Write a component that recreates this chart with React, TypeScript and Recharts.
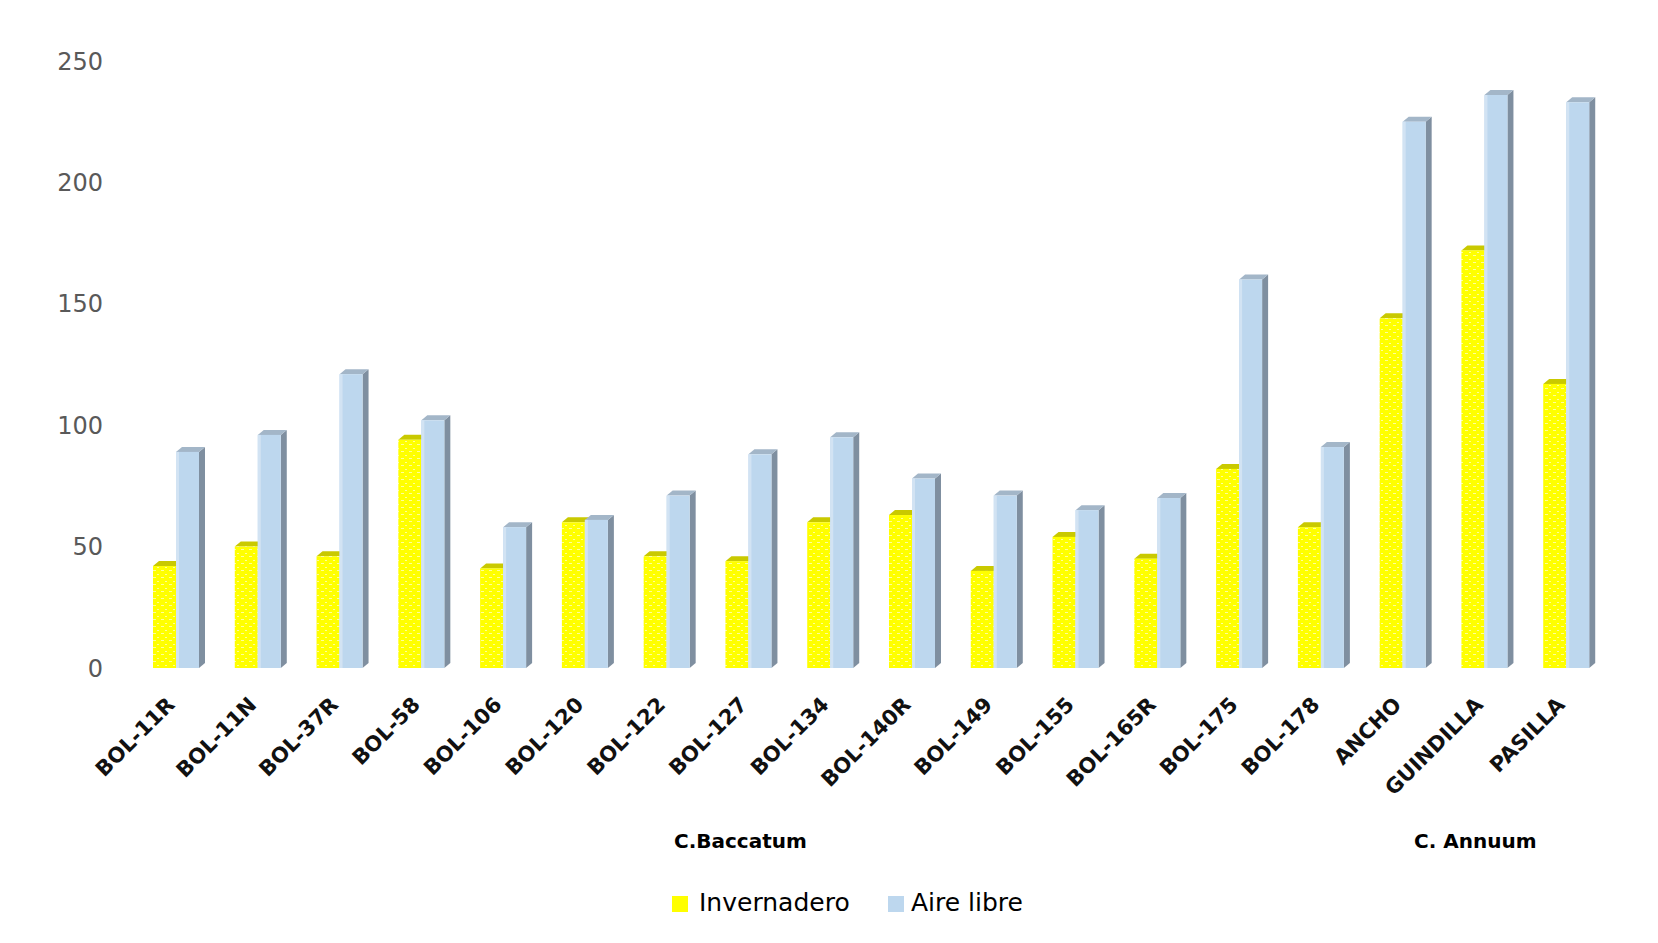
import { BarChart, Bar, XAxis, YAxis, Legend } from 'recharts'

const categories = [
  'BOL-11R', 'BOL-11N', 'BOL-37R', 'BOL-58', 'BOL-106', 'BOL-120', 'BOL-122', 'BOL-127', 'BOL-134',
  'BOL-140R', 'BOL-149', 'BOL-155', 'BOL-165R', 'BOL-175', 'BOL-178', 'ANCHO', 'GUINDILLA', 'PASILLA',
]
const invernadero = [42, 50, 46, 94, 41, 60, 46, 44, 60, 63, 40, 54, 45, 82, 58, 144, 172, 117]
const aireLibre = [89, 96, 121, 102, 58, 61, 71, 88, 95, 78, 71, 65, 70, 160, 91, 225, 236, 233]
const yTicks = [0, 50, 100, 150, 200, 250]
const groupLabels = ['C.Baccatum', 'C. Annuum']
const seriesNames = ['Invernadero', 'Aire libre']

const data = categories.map((name, i) => ({ name, inv: invernadero[i], aire: aireLibre[i] }))

// 3d-ish bars like the excel original
function InvShape(props: any) {
  const { x, y, width: w, height: h } = props
  if (!h || h <= 0) return null
  const d = 6, dy = 5
  return (
    <g>
      <polygon points={`${x},${y} ${x + d},${y - dy} ${x + w + d},${y - dy} ${x + w},${y}`} fill="#c9c900" />
      <rect x={x} y={y} width={w} height={h} fill="url(#yellowDots)" />
    </g>
  )
}

function AireShape(props: any) {
  const { x, y, width: w, height: h } = props
  if (!h || h <= 0) return null
  const d = 6, dy = 5
  return (
    <g>
      <polygon points={`${x + w},${y} ${x + w + d},${y - dy} ${x + w + d},${y + h - dy} ${x + w},${y + h}`} fill="#7f8fa0" />
      <polygon points={`${x},${y} ${x + d},${y - dy} ${x + w + d},${y - dy} ${x + w},${y}`} fill="#a3b6c8" />
      <rect x={x} y={y} width={w} height={h} fill="#bdd7ee" />
      <rect x={x} y={y} width={3} height={h} fill="#d2e3f3" />
    </g>
  )
}

function XTick({ x, payload }: any) {
  return (
    <text
      x={x}
      y={706}
      transform={`rotate(-45, ${x}, 706)`}
      textAnchor="end"
      fontSize={21}
      fontWeight="bold"
      fontFamily="DejaVu Sans"
      fill="#111"
    >
      {payload.value}
    </text>
  )
}

function LegendBox() {
  const txt = { position: 'absolute' as const, fontFamily: 'DejaVu Sans', color: '#000' }
  return (
    <div style={{ position: 'relative', width: 1658, height: 128 }}>
      <span style={{ ...txt, left: 674, top: 14, fontSize: 20, fontWeight: 'bold' }}>{groupLabels[0]}</span>
      <span style={{ ...txt, left: 1414, top: 14, fontSize: 20, fontWeight: 'bold' }}>{groupLabels[1]}</span>
      <div style={{ position: 'absolute', left: 672, top: 81, width: 16, height: 16, background: '#ffff00' }} />
      <span style={{ ...txt, left: 699, top: 73, fontSize: 25 }}>{seriesNames[0]}</span>
      <div style={{ position: 'absolute', left: 888, top: 81, width: 16, height: 16, background: '#bdd7ee' }} />
      <span style={{ ...txt, left: 911, top: 73, fontSize: 25 }}>{seriesNames[1]}</span>
    </div>
  )
}

export default function App() {
  return (
    <div style={{ position: 'absolute', left: 0, top: 0, width: 1658, height: 943, background: '#fff' }}>
      <svg width={0} height={0} style={{ position: 'absolute' }}>
        <defs>
          <pattern id="yellowDots" width={8} height={7} patternUnits="userSpaceOnUse">
            <rect width={8} height={7} fill="#ffff00" />
            <rect x={1} y={3} width={3} height={1} fill="#ffff9a" />
            <rect x={5} y={0} width={2} height={1} fill="#ffff9a" />
          </pattern>
        </defs>
      </svg>
      <BarChart
        width={1658}
        height={943}
        data={data}
        margin={{ top: 61, right: 51, left: 0, bottom: 0 }}
        barGap={0}
        barSize={23}
      >
        <XAxis dataKey="name" interval={0} tick={<XTick />} axisLine={false} tickLine={false} height={147} />
        <YAxis
          domain={[0, 250]}
          ticks={yTicks}
          width={135}
          axisLine={false}
          tickLine={false}
          tickSize={6}
          tickMargin={26}
          tick={{ fontSize: 24, fill: '#595959', fontFamily: 'DejaVu Sans' }}
        />
        <Legend verticalAlign="bottom" height={128} wrapperStyle={{ left: 0, bottom: 0, width: 1658 }} content={<LegendBox />} />
        <Bar dataKey="inv" name="Invernadero" fill="#ffff00" shape={<InvShape />} isAnimationActive={false} />
        <Bar dataKey="aire" name="Aire libre" fill="#bdd7ee" shape={<AireShape />} isAnimationActive={false} />
      </BarChart>
    </div>
  )
}
